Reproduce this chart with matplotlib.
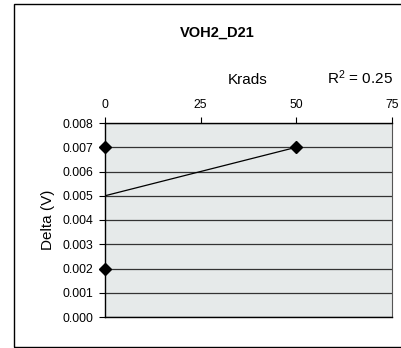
import matplotlib
matplotlib.use('Agg')
import matplotlib.pyplot as plt
from matplotlib.patches import Rectangle

# Datos
krads = [0, 0, 50]
delta = [0.007, 0.002, 0.007]
trend_x = [0, 50]
trend_y = [0.005, 0.007]
x_ticks = [0, 25, 50, 75]
y_ticks = [0.000, 0.001, 0.002, 0.003, 0.004, 0.005, 0.006, 0.007, 0.008]
r2_text = '$\\mathregular{R^2}$ = 0.25'

plt.rcParams['font.family'] = ['Liberation Sans', 'DejaVu Sans']

fig = plt.figure(figsize=(4.02, 3.48), dpi=100)
W, H = 402, 348

# Marco exterior
fig.patches.append(Rectangle((14 / W, 1 / H), 1.0, 343 / H, transform=fig.transFigure,
                             fill=False, edgecolor='black', linewidth=1.0))

ax = fig.add_axes([105 / W, 1 - 317 / H, (392 - 105) / W, (317 - 123) / H])
ax.set_facecolor('#e6eaea')

ax.plot(trend_x, trend_y, color='black', linewidth=0.9, zorder=3)
ax.plot(krads, delta, linestyle='none', marker='D', markersize=6.3, color='black', zorder=4,
        clip_on=False)

ax.set_xlim(0, 75)
ax.set_ylim(0, 0.008)
ax.xaxis.tick_top()
ax.set_xticks(x_ticks)
ax.set_xticklabels([str(v) for v in x_ticks])
ax.set_yticks(y_ticks)
ax.set_yticklabels(['%.3f' % v for v in y_ticks])
ax.tick_params(axis='both', labelsize=8.8, direction='out', length=4.5, width=0.8)
ax.tick_params(axis='x', pad=4.5)
ax.tick_params(axis='y', pad=4)
ax.yaxis.grid(True, color='#333333', linewidth=0.9)
ax.set_axisbelow(True)
for s in ['left', 'top', 'bottom']:
    ax.spines[s].set_linewidth(1.0)
ax.spines['right'].set_color('#555555')

ax.set_ylabel('Delta (V)', fontsize=11, labelpad=5)

fig.text(217 / W, 1 - 33 / H, 'VOH2_D21', ha='center', va='center', fontsize=10.5,
         fontweight='bold')
fig.text(248 / W, 1 - 80 / H, 'Krads', ha='center', va='center', fontsize=11)
fig.text(360 / W, 1 - 78 / H, r2_text, ha='center', va='center', fontsize=11)

fig.savefig('out.png', dpi=100)
